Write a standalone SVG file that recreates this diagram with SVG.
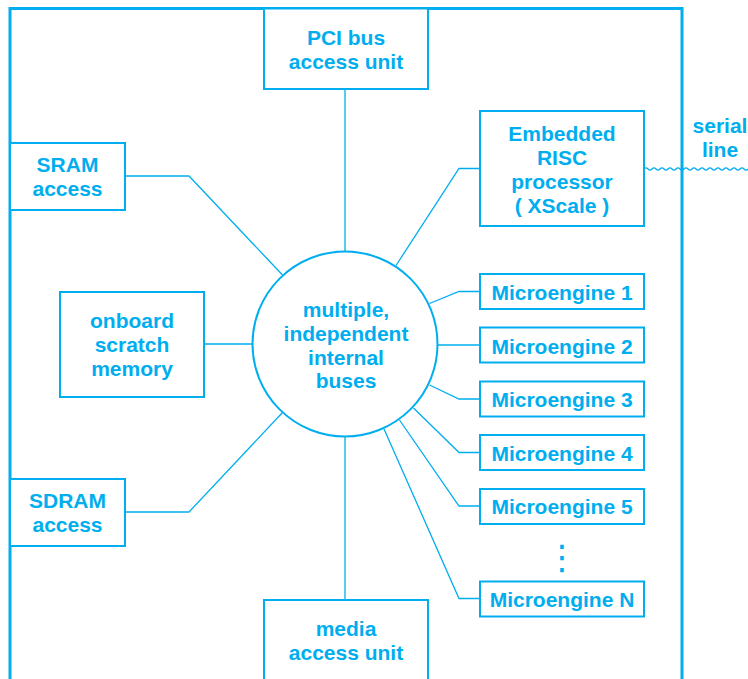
<svg xmlns="http://www.w3.org/2000/svg" width="748" height="679" viewBox="0 0 748 679">
<style>
.box{fill:#fff;stroke:#00AEEF;stroke-width:2}
.frame{fill:none;stroke:#00AEEF;stroke-width:3}
.c{fill:none;stroke:#00AEEF;stroke-width:1.3}
.t{font-family:"Liberation Sans",Arial,sans-serif;font-weight:bold;font-size:21px;fill:#00AEEF;text-anchor:middle}
.d{font-family:"DejaVu Sans",sans-serif;font-size:34px;fill:#00AEEF;text-anchor:middle}
</style>
<rect width="748" height="679" fill="#fff"/>
<path class="frame" d="M10 679 V8.5 H682 V679"/>
<g id="connectors">
<path class="c" d="M345 89 V252"/>
<path class="c" d="M345 436 V600"/>
<path class="c" d="M125 176 H189 L282.5 275"/>
<path class="c" d="M125 512 H189 L282.5 412.5"/>
<path class="c" d="M204 344 H253"/>
<path class="c" d="M480 168.5 H459 L396 265.5"/>
<path class="c" d="M480 291.5 H459 L429.5 303.5"/>
<path class="c" d="M480 345 H437"/>
<path class="c" d="M480 399 H459 L429.5 385"/>
<path class="c" d="M480 452.5 H459 L413.5 408"/>
<path class="c" d="M480 506 H459 L399.5 420"/>
<path class="c" d="M480 598.5 H459 L384 429"/>
<path class="c" d="M644 169 q2 -2.4 4 0 t4 0 t4 0 t4 0 t4 0 t4 0 t4 0 t4 0 t4 0 t4 0 t4 0 t4 0 t4 0 t4 0 t4 0 t4 0 t4 0 t4 0 t4 0 t4 0 t4 0 t4 0 t4 0 t4 0 t4 0 t4 0"/>
</g>
<g id="pci"><rect class="box" x="264" y="8.5" width="164" height="80.5"/><text class="t" x="346" y="45">PCI bus</text><text class="t" x="346" y="69">access unit</text></g>
<g id="sram"><rect class="box" x="10" y="143" width="115" height="67"/><text class="t" x="67.5" y="172">SRAM</text><text class="t" x="67.5" y="195.5">access</text></g>
<g id="scratch"><rect class="box" x="60" y="292" width="144" height="105"/><text class="t" x="132" y="328">onboard</text><text class="t" x="132" y="352">scratch</text><text class="t" x="132" y="376">memory</text></g>
<g id="sdram"><rect class="box" x="10" y="479" width="115" height="67"/><text class="t" x="67.5" y="508">SDRAM</text><text class="t" x="67.5" y="532">access</text></g>
<g id="buses"><circle cx="345" cy="344" r="92.5" fill="#fff" stroke="#00AEEF" stroke-width="2"/><text class="t" x="346" y="317">multiple,</text><text class="t" x="346" y="341">independent</text><text class="t" x="346" y="364.5">internal</text><text class="t" x="346" y="388">buses</text></g>
<g id="media"><rect class="box" x="264" y="600" width="164" height="85"/><text class="t" x="346" y="636">media</text><text class="t" x="346" y="659.5">access unit</text></g>
<g id="risc"><rect class="box" x="480" y="111" width="164" height="115"/><text class="t" x="562" y="141">Embedded</text><text class="t" x="562" y="165">RISC</text><text class="t" x="562" y="189">processor</text><text class="t" x="562" y="213">( XScale )</text></g>
<g id="serial"><text class="t" x="720" y="133">serial</text><text class="t" x="720" y="157">line</text></g>
<g id="me1"><rect class="box" x="480" y="274" width="164" height="35"/><text class="t" x="562" y="300">Microengine 1</text></g>
<g id="me2"><rect class="box" x="480" y="327.5" width="164" height="35"/><text class="t" x="562" y="353.5">Microengine 2</text></g>
<g id="me3"><rect class="box" x="480" y="381.5" width="164" height="35"/><text class="t" x="562" y="407">Microengine 3</text></g>
<g id="me4"><rect class="box" x="480" y="435" width="164" height="35"/><text class="t" x="562" y="460.5">Microengine 4</text></g>
<g id="me5"><rect class="box" x="480" y="489" width="164" height="35"/><text class="t" x="562" y="514">Microengine 5</text></g>
<g id="dots"><text class="d" x="562" y="569">⋮</text></g>
<g id="men"><rect class="box" x="480" y="581.5" width="164" height="35"/><text class="t" x="562" y="607">Microengine N</text></g>
</svg>
